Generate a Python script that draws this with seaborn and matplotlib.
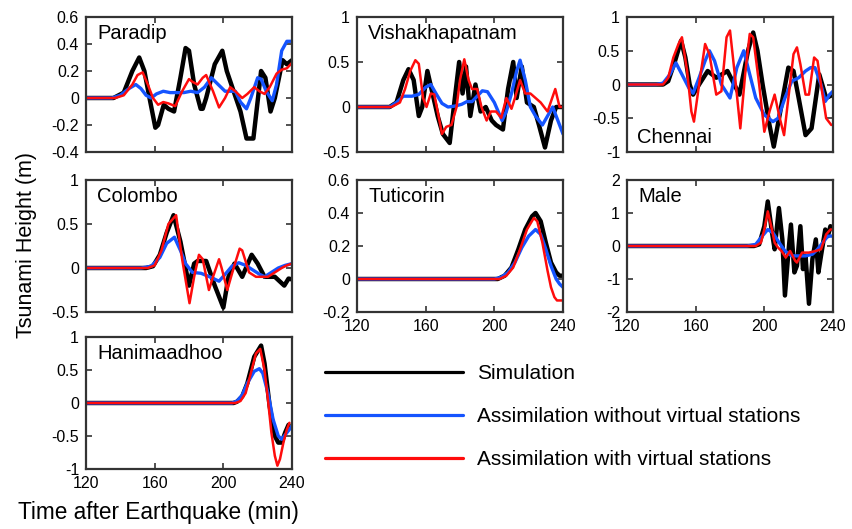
import pandas as pd
import seaborn as sns
import matplotlib.pyplot as plt
from matplotlib.lines import Line2D
from matplotlib.ticker import FormatStrFormatter

# tsunami time series, (time in min, height in m)
paradip_sim = [(120,0),(136,0),(142,0.04),(147,0.2),(151,0.3),(154,0.2),(157,0.0),(160.4,-0.22),(162,-0.2),(165.3,-0.05),(168,-0.08),(171.3,-0.1),(175,0.15),(178,0.37),(180,0.35),(183,0.1),(186.8,-0.08),(188,-0.08),(190,0.0),(195,0.25),(199.4,0.35),(202,0.2),(206,0.05),(210,-0.1),(213.5,-0.3),(217.5,-0.3),(222,0.2),(224.5,0.15),(227.5,-0.1),(230,0.0),(234.5,0.28),(237,0.25),(240,0.28)]
paradip_wo = [(120,0),(135,0),(140,0.02),(145,0.07),(149,0.1),(152,0.07),(155,0.02),(158,0.0),(161,0.03),(165,0.05),(169,0.04),(173,0.04),(177,0.04),(181,0.05),(185,0.04),(189,0.08),(193,0.15),(197,0.1),(201,0.05),(204,0.05),(207,0.05),(210,-0.03),(213.5,-0.08),(216,0.0),(220,0.15),(222,0.14),(225,0.05),(228.5,-0.02),(231,0.1),(234,0.35),(237,0.42),(240,0.42)]
paradip_w = [(120,0),(137,0),(142,0.02),(147,0.1),(150,0.17),(153,0.19),(156,0.1),(159,0.0),(162,-0.05),(165,-0.03),(168,-0.04),(172,-0.06),(176,0.05),(180,0.14),(182,0.12),(185,0.1),(188,0.15),(190,0.17),(194,0.05),(197.5,-0.07),(201,0.0),(204,0.08),(207,0.05),(211,0.0),(214,0.03),(218,0.08),(221,0.05),(224,0.03),(227,0.08),(231,0.18),(234,0.21),(237,0.22),(240,0.26)]

vis_sim = [(120,0),(139,0),(143,0.05),(147,0.3),(150,0.42),(153,0.3),(156,-0.1),(158,0.0),(161,0.4),(164,0.15),(167,-0.1),(170,-0.3),(174,-0.4),(177,0.1),(179.5,0.5),(181.5,0.15),(183.5,0.45),(186,-0.1),(189,0.25),(192,-0.05),(195,0.0),(198.5,-0.15),(201,-0.2),(205,-0.25),(208,0.2),(211,0.5),(213,0.1),(216,0.45),(219,0.05),(223,0.0),(226,-0.2),(229.5,-0.45),(233,-0.15),(236,0.0),(240,0.0)]
vis_wo = [(120,0),(139,0),(143,0.05),(147,0.12),(152,0.12),(156,0.14),(160,0.22),(163,0.25),(166,0.15),(169.5,0.04),(173,0.0),(177,0.01),(181,0.03),(184,0.06),(187,0.06),(190,0.12),(193,0.18),(196,0.17),(200,0.05),(204.5,-0.15),(207,-0.05),(210,0.15),(213,0.4),(215,0.52),(218,0.3),(221,0.0),(224,-0.1),(228,-0.2),(231,-0.1),(234,0.0),(237,-0.15),(240,-0.3)]
vis_w = [(120,0),(140,0),(145,0.05),(148,0.2),(151,0.4),(154,0.52),(156,0.48),(158.5,0.1),(160.5,0.0),(163,0.15),(165,0.14),(167,-0.05),(169.5,-0.3),(172,-0.22),(175,-0.2),(178,0.0),(180,0.3),(182.5,0.53),(185,0.3),(187,0.2),(190,0.2),(192.5,0.0),(195.5,-0.15),(198,-0.05),(201,-0.05),(204,-0.12),(207,0.1),(210,-0.02),(212,0.1),(215,0.3),(218,0.15),(221,0.15),(224,0.1),(227,0.05),(231,-0.05),(235.5,0.2),(238,0.0),(240,0.0)]

chen_sim = [(120,0),(141,0),(144,0.05),(148,0.35),(151.5,0.65),(154,0.4),(156.5,0.0),(158.5,-0.15),(162,0.0),(167,0.2),(172,0.1),(178.5,0.2),(185.5,-0.15),(190.5,0.5),(193.5,0.77),(196,0.5),(199,0.0),(203,-0.6),(205.5,-0.92),(210,-0.3),(214,0.25),(217,0.2),(220,-0.2),(224,-0.75),(227.5,-0.65),(232,0.15),(236,-0.2),(240,-0.15)]
chen_wo = [(120,0),(137,0),(141,0.02),(145,0.15),(148.5,0.32),(152,0.15),(156,-0.05),(158.5,-0.13),(162,0.1),(165.5,0.35),(168,0.5),(171,0.35),(175,0.0),(180,-0.2),(184,0.25),(188,0.5),(191,0.2),(195,-0.2),(200,-0.45),(205,-0.55),(208,-0.5),(212,-0.2),(216,0.05),(220,0.1),(224,0.2),(227,0.25),(229.5,0.25),(233,0.0),(235.5,-0.25),(238,-0.15),(240,-0.1)]
chen_w = [(120,0),(141,0),(144,0.1),(147,0.4),(150,0.6),(152,0.7),(155,0.2),(157.5,-0.4),(159,-0.55),(162,0.0),(165.5,0.6),(168,0.45),(172,-0.15),(175,-0.1),(178,0.7),(180,0.8),(183,0.1),(186,-0.65),(189,0.2),(191.5,0.75),(193.5,0.7),(197,0.0),(200,-0.7),(203,-0.4),(206,-0.15),(209,-0.5),(211.5,-0.75),(214,-0.2),(217,0.45),(219,0.55),(221,0.3),(224,-0.15),(226,-0.15),(229,0.4),(231,0.35),(233,0.0),(236,-0.5),(239,-0.6)]

colo_sim = [(120,0),(155,0),(159,0.02),(163,0.15),(167,0.4),(171,0.6),(175,0.3),(180,-0.2),(183,0.05),(185,0.08),(190,0.08),(195,-0.2),(200,-0.45),(203,-0.1),(206.5,0.05),(211,-0.1),(216.5,0.15),(220,0.05),(224,-0.1),(230,-0.1),(235.5,-0.2),(238,-0.12),(240,-0.13)]
colo_wo = [(120,0),(152,0),(158,0.02),(163,0.12),(167,0.28),(171.5,0.35),(175,0.2),(178,0.05),(182,-0.05),(187,-0.06),(192,-0.1),(197.5,-0.15),(202,-0.05),(205,0.02),(209,0.06),(213,0.03),(217,-0.02),(221,-0.07),(224,-0.1),(228,-0.05),(232,0.0),(236,0.03),(240,0.05)]
colo_w = [(120,0),(156,0),(160,0.03),(164,0.2),(168,0.5),(172.5,0.6),(176,0.1),(180.3,-0.4),(183,-0.1),(185.8,0.15),(188,0.1),(191.6,-0.25),(194,-0.1),(197.5,0.1),(199,0.0),(202.3,-0.25),(206,0.0),(209.5,0.22),(211,0.2),(215,-0.05),(219,-0.1),(222,-0.1),(226,-0.1),(230,-0.05),(234,0.0),(237,0.03),(240,0.05)]

tut_sim = [(120,0),(202,0),(206,0.02),(210,0.07),(214,0.18),(218,0.3),(222,0.38),(224,0.4),(227,0.35),(230,0.22),(233,0.1),(236,0.04),(238,0.02),(240,0.02)]
tut_wo = [(120,0),(200,0),(204,0.01),(208,0.04),(212,0.1),(216,0.19),(220,0.26),(224,0.3),(227,0.27),(230,0.18),(233,0.08),(236,0.0),(238,-0.03),(240,-0.05)]
tut_w = [(120,0),(203,0),(207,0.02),(211,0.07),(215,0.18),(219,0.3),(223,0.37),(225,0.35),(228,0.22),(231,0.05),(233,-0.05),(235,-0.11),(236.5,-0.13),(240,-0.13)]

male_sim = [(120,0),(194,0),(197,0.05),(200,0.6),(202,1.35),(204.5,0.4),(206,-0.1),(208.5,1.15),(210.5,0.2),(212,-1.5),(214,-0.2),(215.5,0.65),(217.5,-0.8),(219,-0.6),(221,0.6),(222.5,-0.7),(224,-0.3),(226,-1.75),(228,-0.4),(230,0.2),(231.5,-0.8),(233,-0.3),(235.5,0.5),(237,0.3),(238.5,0.6),(240,0.5)]
male_wo = [(120,0),(190,0),(195,0.05),(198,0.25),(202,0.5),(205,0.4),(208,0.15),(212,-0.15),(216,-0.3),(220,-0.3),(224,-0.3),(228,-0.25),(231,-0.1),(234,0.1),(237,0.3),(240,0.3)]
male_w = [(120,0),(195,0),(198,0.1),(200,0.5),(202,1.05),(204,0.6),(206,0.1),(208,-0.05),(210,-0.15),(212.5,-0.35),(215,-0.15),(218,-0.45),(219,-0.5),(222,-0.2),(226,-0.2),(230,-0.15),(233,-0.1),(236,0.35),(238.5,0.5),(240,0.5)]

han_sim = [(120,0),(206,0),(208,0.02),(211,0.1),(214,0.3),(218,0.7),(222,0.87),(224,0.6),(227,-0.05),(230,-0.5),(232,-0.6),(234,-0.6),(236,-0.45),(238,-0.33)]
han_wo = [(120,0),(205,0),(208,0.03),(211,0.12),(214,0.3),(218,0.48),(221,0.52),(223,0.45),(226,0.15),(229,-0.25),(232,-0.5),(234,-0.55),(237,-0.45),(240,-0.35)]
han_w = [(120,0),(207,0),(210,0.03),(213,0.15),(216,0.45),(219,0.75),(221.5,0.82),(224,0.5),(226,0.05),(228,-0.45),(230,-0.8),(231.5,-0.95),(233,-0.85),(235,-0.6),(237,-0.4),(238.5,-0.3)]

series_names = ['Simulation', 'Assimilation without virtual stations', 'Assimilation with virtual stations']
colors = ['#000000', '#1554ff', '#ff0c0c']
widths = [3.2, 2.4, 1.8]

# station, data, y limits, y step, label placement
stations = [
    ('Paradip', [paradip_sim, paradip_wo, paradip_w], (-0.4, 0.6), 0.2, 'top'),
    ('Vishakhapatnam', [vis_sim, vis_wo, vis_w], (-0.5, 1), 0.5, 'top'),
    ('Chennai', [chen_sim, chen_wo, chen_w], (-1, 1), 0.5, 'bottom'),
    ('Colombo', [colo_sim, colo_wo, colo_w], (-0.5, 1), 0.5, 'top'),
    ('Tuticorin', [tut_sim, tut_wo, tut_w], (-0.2, 0.6), 0.2, 'top'),
    ('Male', [male_sim, male_wo, male_w], (-2, 2), 1, 'top'),
    ('Hanimaadhoo', [han_sim, han_wo, han_w], (-1, 1), 0.5, 'top'),
]
xticks = [120, 160, 200, 240]

sns.set_style('ticks')
plt.rcParams['font.family'] = ['Liberation Sans', 'DejaVu Sans']
plt.rcParams['axes.unicode_minus'] = False
for k in ['text.color', 'axes.labelcolor', 'xtick.color', 'ytick.color']:
    plt.rcParams[k] = 'black'

fig = plt.figure(figsize=(8.52, 5.29), dpi=100)
W, H = 852, 529
col_x = [86, 357, 627]
row_y = [(17, 152), (180, 312), (337, 469)]
grid = [(0, 0), (0, 1), (0, 2), (1, 0), (1, 1), (1, 2), (2, 0)]
show_x = ['Tuticorin', 'Male', 'Hanimaadhoo']

for (name, data, ylim, ystep, where), (r, c) in zip(stations, grid):
    top, bot = row_y[r]
    ax = fig.add_axes([col_x[c] / W, 1 - bot / H, 206 / W, (bot - top) / H])
    for s, col, lw, pts in zip(series_names, colors, widths, data):
        df = pd.DataFrame(pts, columns=['t', 'h'])
        sns.lineplot(data=df, x='t', y='h', color=col, lw=lw, ax=ax,
                     estimator=None, sort=False)
    ax.set_xlim(120, 240)
    ax.set_ylim(*ylim)
    ax.set_xticks(xticks)
    n = int(round((ylim[1] - ylim[0]) / ystep))
    ax.set_yticks([ylim[0] + i * ystep for i in range(n + 1)])
    ax.yaxis.set_major_formatter(FormatStrFormatter('%g'))
    ax.set_xlabel('')
    ax.set_ylabel('')
    ax.tick_params(direction='in', length=4, width=1.2, top=True, right=True,
                   labelsize=11.5, pad=5, color='#333333')
    if name not in show_x:
        ax.set_xticklabels([])
    for sp in ax.spines.values():
        sp.set_linewidth(1.6)
        sp.set_color('#333333')
    if where == 'top':
        ax.text(0.055, 0.95, name, transform=ax.transAxes, va='top', ha='left', fontsize=14.5)
    else:
        ax.text(0.05, 0.07, name, transform=ax.transAxes, va='baseline', ha='left', fontsize=14.5)

fig.text(27 / W, 1 - 245 / H, 'Tsunami Height (m)', rotation=90, va='center', ha='center', fontsize=15.5)
fig.text(158 / W, 1 - 513 / H, 'Time after Earthquake (min)', va='center', ha='center', fontsize=16.3)

handles = [Line2D([], [], color=c, lw=2.3) for c in colors]
fig.legend(handles, series_names, loc='upper left', bbox_to_anchor=(325 / W, 1 - 364 / H),
           frameon=False, fontsize=15, handlelength=6.6, handletextpad=0.7,
           labelspacing=1.15, borderpad=0, borderaxespad=0)

plt.savefig('out.png', dpi=100)
